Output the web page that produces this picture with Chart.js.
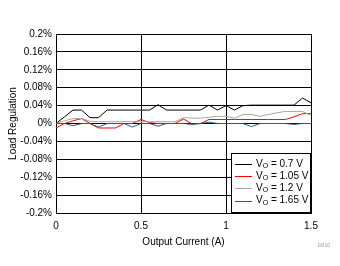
<!DOCTYPE html>
<html>
<head>
<meta charset="utf-8">
<script src="https://cdn.jsdelivr.net/npm/chart.js@4"></script>
<style>
  html, body { margin: 0; padding: 0; background: #fff; }
  #wrap { width: 340px; height: 266px; position: relative; }
</style>
</head>
<body>
<div id="wrap"><canvas id="chart" width="340" height="266"></canvas></div>
<script>
// output current (A)
const current = [0, 0.05, 0.1, 0.15, 0.2, 0.25, 0.3, 0.35, 0.4, 0.45, 0.5, 0.55, 0.6, 0.65, 0.7, 0.75,
  0.8, 0.85, 0.9, 0.95, 1.0, 1.05, 1.1, 1.15, 1.2, 1.25, 1.3, 1.35, 1.4, 1.45, 1.5]

// load regulation (%)
const vo070 = [0, 0.015, 0.03, 0.03, 0.013, 0.013, 0.03, 0.03, 0.03, 0.03, 0.03, 0.03, 0.042, 0.03, 0.03, 0.03,
  0.03, 0.03, 0.041, 0.03, 0.04, 0.03, 0.04, 0.041, 0.041, 0.041, 0.041, 0.041, 0.041, 0.057, 0.046]
const vo105 = [-0.01, 0, 0.006, 0.011, 0, -0.01, -0.01, -0.01, 0, 0, 0.009, 0.002, 0, 0, 0, 0.01,
  -0.001, 0, 0.009, 0.009, 0.009, 0.009, 0.009, 0.009, 0.009, 0.009, 0.009, 0.009, 0.015, 0.022, 0.022]
const vo120 = [0, 0.006, 0.011, 0.011, 0.005, 0.004, 0.004, 0.004, 0.004, 0.004, 0.004, 0.004, 0.004, 0.004, 0.004, 0.013,
  0.012, 0.012, 0.014, 0.016, 0.016, 0.012, 0.02, 0.02, 0.016, 0.02, 0.024, 0.027, 0.027, 0.027, 0.018]
const vo165 = [0, 0, -0.005, 0, 0, -0.008, 0, 0, 0, -0.008, 0, 0, -0.006, 0, 0, 0,
  -0.002, 0, 0.003, 0, 0, 0, 0, -0.007, 0, 0, 0, 0, -0.002, 0, 0]

const xTicks = [0, 0.5, 1, 1.5]
const yTicks = [-0.2, -0.16, -0.12, -0.08, -0.04, 0, 0.04, 0.08, 0.12, 0.16, 0.2]

const seriesNames = ['0.7 V', '1.05 V', '1.2 V', '1.65 V']
const seriesColors = ['#000000', '#ff0000', '#a6a6a6', '#2b5d7a']

const FONT = "'Liberation Sans', Arial, sans-serif"

const buildDataset = (values, i) => ({
  label: 'VO = ' + seriesNames[i],
  data: values.map((v, k) => ({ x: current[k], y: v })),
  borderColor: seriesColors[i],
  backgroundColor: seriesColors[i],
  borderWidth: 1,
  pointRadius: 0,
  tension: 0,
  order: i === 3 ? 0 : 4 - i
})

// legend box with subscripts, sitting in the lower right corner of the plot
const legendBox = {
  id: 'legendBox',
  afterDraw (chart) {
    const { ctx, chartArea } = chart
    const w = 80, h = 60
    const x0 = chartArea.right - w, y0 = chartArea.bottom - h
    ctx.save()
    ctx.fillStyle = '#fff'
    ctx.fillRect(x0, y0, w, h)
    ctx.strokeStyle = '#000'
    ctx.lineWidth = 1
    ctx.strokeRect(Math.round(x0) + 0.5, Math.round(y0) + 0.5, w - 1, h - 1)
    seriesNames.forEach((name, i) => {
      const y = y0 + 11 + i * 12.2
      ctx.strokeStyle = seriesColors[i]
      ctx.beginPath()
      ctx.moveTo(x0 + 4, Math.round(y) + 0.5)
      ctx.lineTo(x0 + 21, Math.round(y) + 0.5)
      ctx.stroke()
      ctx.fillStyle = '#000'
      ctx.textBaseline = 'middle'
      ctx.textAlign = 'left'
      ctx.font = '10px ' + FONT
      let tx = x0 + 25
      ctx.fillText('V', tx, y)
      tx += ctx.measureText('V').width
      ctx.font = '7px ' + FONT
      ctx.fillText('O', tx, y + 2)
      tx += ctx.measureText('O').width
      ctx.font = '10px ' + FONT
      ctx.fillText(' = ' + name, tx, y)
    })
    ctx.fillStyle = '#999'
    ctx.font = '5px ' + FONT
    ctx.fillText('D010', 318, 246)
    ctx.restore()
  }
}

new Chart(document.getElementById('chart'), {
  type: 'line',
  data: { datasets: [vo070, vo105, vo120, vo165].map(buildDataset) },
  plugins: [legendBox],
  options: {
    responsive: false,
    animation: false,
    layout: { padding: { top: 34, right: 29, bottom: 18, left: 0 } },
    plugins: { legend: { display: false }, tooltip: { enabled: false } },
    scales: {
      x: {
        type: 'linear',
        min: 0,
        max: 1.5,
        afterFit: (s) => { s.height = 35 },
        afterBuildTicks: (s) => { s.ticks = xTicks.map(v => ({ value: v })) },
        border: { color: '#000', width: 1 },
        grid: { color: '#000', drawTicks: false },
        ticks: {
          color: '#000',
          font: { family: FONT, size: 10 },
          padding: 7,
          maxRotation: 0,
          callback: (v) => String(v)
        },
        title: {
          display: true,
          text: 'Output Current (A)',
          color: '#000',
          font: { family: FONT, size: 10 },
          padding: { top: 0, bottom: 0 }
        }
      },
      y: {
        min: -0.2,
        max: 0.2,
        afterFit: (s) => { s.width = 56 },
        afterBuildTicks: (s) => { s.ticks = yTicks.map(v => ({ value: v })) },
        border: { color: '#000', width: 1 },
        grid: { color: '#000', drawTicks: false },
        ticks: {
          color: '#000',
          font: { family: FONT, size: 10 },
          padding: 4,
          callback: (v) => (Math.round(v * 100) / 100) + '%'
        },
        title: {
          display: true,
          text: 'Load Regulation',
          color: '#000',
          font: { family: FONT, size: 10 },
          padding: { top: 7, bottom: 0 }
        }
      }
    }
  }
})
</script>
</body>
</html>
